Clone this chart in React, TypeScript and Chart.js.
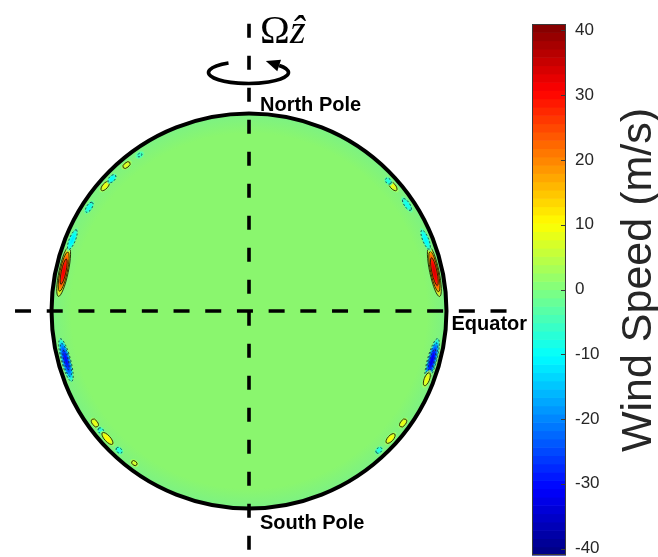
import React, { useEffect, useRef } from 'react';
import { Chart, registerables } from 'chart.js';
Chart.register(...registerables);

// ---- Colour bar (wind speed, m/s) ----
const cbTicks = [-40, -30, -20, -10, 0, 10, 20, 30, 40];
const cbMin = -41;
const cbMax = 41;
const cbLevels = 64;
const cbTitle = 'Wind Speed (m/s)';

// ---- Limb jets: side (-1 west limb, +1 east limb), latitude (deg), span (deg), peak speed (m/s) ----
const jetSide = [-1, -1, -1, -1, -1, -1, -1, 1, 1, 1, 1, 1, -1, -1, -1, -1, -1, -1, 1, 1, 1, 1, 1];
const jetLat = [12, 22, 33, 41, 44, 50, 55, 12, 22, 34, 41, 43, -15, -36, -39, -42, -47, -53, -15, -21, -36, -42, -47];
const jetSpan = [16, 8, 5, 5, 4, 4, 2, 16, 8, 6, 5, 3, 14, 4, 3, 6, 3, 3, 14, 6, 4, 5, 3];
const jetSpeed = [32, -12, -9, 9, -10, 8, -6, 34, -11, -9, 9, -8, -30, 9, -8, 11, -8, 7, -32, 9, 9, 10, -8];

// ---- Annotations ----
const northLabel = 'North Pole';
const southLabel = 'South Pole';
const equatorLabel = 'Equator';
const omegaLabel = 'Ω';
const zHatLabel = 'ẑ';

// Rotation axis and equator (data units, disk radius = 1)
const axisV = [{ x: 0, y: 1.455 }, { x: 0, y: -1.21 }];
const axisH = [{ x: 1.304, y: 0 }, { x: -1.215, y: 0 }];

const diskColor = 'rgb(138,246,110)';

const jet = (t: number) => {
  const c = (v: number) => Math.max(0, Math.min(1, v));
  return [c(1.5 - Math.abs(4 * t - 3)), c(1.5 - Math.abs(4 * t - 2)), c(1.5 - Math.abs(4 * t - 1))].map((v) =>
    Math.round(v * 255)
  );
};
const speedColor = (v: number, a = 1) => {
  const t = Math.max(0, Math.min(1, (v - cbMin) / (cbMax - cbMin)));
  const [r, g, b] = jet(t);
  return `rgba(${r},${g},${b},${a})`;
};

const spherePlugin = {
  id: 'sphere',
  beforeDatasetsDraw(chart: any) {
    const { ctx, scales, chartArea } = chart;
    const { x, y, cb } = scales;
    const cx = x.getPixelForValue(0);
    const cy = y.getPixelForValue(0);
    const R = x.getPixelForValue(1) - cx;

    // disk
    ctx.save();
    ctx.beginPath();
    ctx.arc(cx, cy, R, 0, Math.PI * 2);
    ctx.fillStyle = diskColor;
    ctx.fill();
    const rg = ctx.createRadialGradient(cx, cy, R * 0.9, cx, cy, R);
    rg.addColorStop(0, 'rgba(112,238,150,0)');
    rg.addColorStop(1, 'rgba(112,238,150,0.55)');
    ctx.fillStyle = rg;
    ctx.fill();
    ctx.clip();

    // limb jets
    jetLat.forEach((lat, i) => {
      const side = jetSide[i];
      const v = jetSpeed[i];
      const span = jetSpan[i];
      const strong = Math.abs(v) > 20;
      const b = strong ? 5 : 4;
      const a = Math.max(b * 1.4, (R * span * Math.PI) / 180 / 2);
      const rc = R - b - 3;
      const th = (lat * Math.PI) / 180;
      const px = cx + side * rc * Math.cos(th);
      const py = cy - rc * Math.sin(th);
      const rot = Math.atan2(-Math.sin(th), side * Math.cos(th)) + Math.PI / 2;
      const setT = () => {
        ctx.translate(px, py);
        ctx.rotate(rot);
        ctx.scale(a, b);
      };
      ctx.save();
      setT();
      const g = ctx.createRadialGradient(0, 0, 0, 0, 0, 1);
      for (let k = 0; k <= 10; k++) {
        const r = k / 10;
        g.addColorStop(r, speedColor(v * (1 - r * r), k === 10 ? 0 : k >= 8 ? 0.7 : 1));
      }
      ctx.fillStyle = g;
      ctx.beginPath();
      ctx.arc(0, 0, 1, 0, Math.PI * 2);
      ctx.fill();
      ctx.restore();

      const levels = v > 0 ? [5, 15, 25] : [-5, -15, -25];
      levels.forEach((L) => {
        if (Math.abs(L) >= Math.abs(v)) return;
        const r = Math.sqrt(1 - L / v);
        ctx.save();
        setT();
        ctx.beginPath();
        ctx.arc(0, 0, r, 0, Math.PI * 2);
        ctx.restore();
        ctx.save();
        ctx.strokeStyle = v > 0 ? 'rgba(30,30,0,0.9)' : 'rgba(20,40,60,0.85)';
        ctx.lineWidth = 1;
        if (v < 0) ctx.setLineDash([2, 2]);
        ctx.stroke();
        ctx.restore();
      });
    });
    ctx.restore();

    // outline
    ctx.save();
    ctx.beginPath();
    ctx.arc(cx, cy, R, 0, Math.PI * 2);
    ctx.lineWidth = 4;
    ctx.strokeStyle = '#000';
    ctx.stroke();
    ctx.restore();

    // colour bar
    const right = chartArea.right;
    const left = right - 34;
    const step = (cbMax - cbMin) / cbLevels;
    ctx.save();
    for (let i = 0; i < cbLevels; i++) {
      const v0 = cbMin + i * step;
      const y0 = cb.getPixelForValue(v0);
      const y1 = cb.getPixelForValue(v0 + step);
      const [r, g, b] = jet((i + 0.5) / cbLevels);
      ctx.fillStyle = `rgb(${r},${g},${b})`;
      ctx.fillRect(left, y1, right - left, y0 - y1 + 0.6);
    }
    const top = cb.getPixelForValue(cbMax);
    const bot = cb.getPixelForValue(cbMin);
    ctx.strokeStyle = '#3a3a3a';
    ctx.lineWidth = 1;
    ctx.strokeRect(left + 0.5, top + 0.5, right - left - 1, bot - top - 1);
    cbTicks.forEach((t) => {
      const ty = Math.round(cb.getPixelForValue(t)) + 0.5;
      ctx.beginPath();
      ctx.moveTo(right - 5, ty);
      ctx.lineTo(right, ty);
      ctx.stroke();
    });
    ctx.restore();
  },
  afterDatasetsDraw(chart: any) {
    const { ctx, scales } = chart;
    const { x, y } = scales;
    const cx = x.getPixelForValue(0);
    const cy = y.getPixelForValue(0);
    const R = x.getPixelForValue(1) - cx;

    ctx.save();
    ctx.fillStyle = '#000';
    ctx.textBaseline = 'alphabetic';
    ctx.textAlign = 'left';
    ctx.font = 'bold 20px "Liberation Sans", Arial, sans-serif';
    ctx.fillText(northLabel, cx + 11, cy - R - 3);
    ctx.fillText(southLabel, cx + 11, cy + R + 20);
    ctx.fillText(equatorLabel, cx + R + 5, cy + 19);

    // Omega z-hat
    ctx.font = '40px "Liberation Serif", "DejaVu Serif", serif';
    ctx.fillText(omegaLabel, cx + 11, 43);
    ctx.font = 'italic 40px "Liberation Serif", "DejaVu Serif", serif';
    ctx.fillText(zHatLabel, cx + 41, 43);

    // rotation arrow
    const ax = cx - 0.5;
    const ay = 72.5;
    const rx = 40;
    const ry = 11;
    const t0 = (240 * Math.PI) / 180;
    const t1 = (-40 * Math.PI) / 180;
    ctx.beginPath();
    ctx.ellipse(ax, ay, rx, ry, 0, t0, t1, true);
    ctx.lineWidth = 3.6;
    ctx.strokeStyle = '#000';
    ctx.stroke();
    const ex = ax + rx * Math.cos(t1);
    const ey = ay + ry * Math.sin(t1);
    let dx = rx * Math.sin(t1);
    let dy = -ry * Math.cos(t1);
    const dl = Math.hypot(dx, dy);
    dx /= dl;
    dy /= dl;
    const tipX = ex + dx * 14;
    const tipY = ey + dy * 14;
    ctx.beginPath();
    ctx.moveTo(tipX, tipY);
    ctx.lineTo(ex - dy * 6, ey + dx * 6);
    ctx.lineTo(ex + dy * 6, ey - dx * 6);
    ctx.closePath();
    ctx.fill();

    // colour bar title
    ctx.save();
    ctx.translate(651, 280);
    ctx.rotate(-Math.PI / 2);
    ctx.textAlign = 'center';
    ctx.fillStyle = '#262626';
    ctx.font = '43px "Liberation Sans", Arial, sans-serif';
    ctx.fillText(cbTitle, 0, 0);
    ctx.restore();
    ctx.restore();
  },
};

export default function App() {
  const ref = useRef<HTMLCanvasElement | null>(null);
  useEffect(() => {
    if (!ref.current) return;
    const chart = new Chart(ref.current, {
      type: 'scatter',
      data: {
        datasets: [
          {
            label: 'rotation axis',
            data: axisV,
            showLine: true,
            borderColor: '#000',
            borderWidth: 3.6,
            borderDash: [14, 18],
            pointRadius: 0,
            clip: false,
          } as any,
          {
            label: 'equator',
            data: axisH,
            showLine: true,
            borderColor: '#000',
            borderWidth: 3.6,
            borderDash: [16, 15.7],
            pointRadius: 0,
            clip: false,
          } as any,
        ],
      },
      options: {
        animation: false,
        responsive: false,
        maintainAspectRatio: false,
        events: [],
        layout: { padding: { top: 24, bottom: 2, left: 0, right: 0 } },
        plugins: { legend: { display: false }, tooltip: { enabled: false } },
        scales: {
          x: { type: 'linear', display: false, min: -1.2608, max: 1.6051 },
          y: { type: 'linear', display: false, min: -1.2354, max: 1.4532 },
          cb: {
            axis: 'y',
            type: 'linear',
            position: 'right',
            min: cbMin,
            max: cbMax,
            grid: { display: false, drawTicks: false, drawOnChartArea: false },
            border: { display: false },
            ticks: {
              padding: 9,
              autoSkip: false,
              maxRotation: 0,
              color: '#262626',
              font: { family: '"Liberation Sans", Arial, sans-serif', size: 17 },
              callback: (v: any) => String(v),
            },
            afterBuildTicks: (axis: any) => {
              axis.ticks = cbTicks.map((v) => ({ value: v }));
            },
            afterFit: (axis: any) => {
              axis.width = 92;
              axis.paddingTop = 0;
              axis.paddingBottom = 0;
            },
          } as any,
        },
      },
      plugins: [spherePlugin],
    });
    return () => chart.destroy();
  }, []);
  return (
    <div style={{ position: 'absolute', left: 0, top: 0, width: 658, height: 557, background: '#fff' }}>
      <canvas ref={ref} width={658} height={557} style={{ width: 658, height: 557, display: 'block' }} />
    </div>
  );
}
